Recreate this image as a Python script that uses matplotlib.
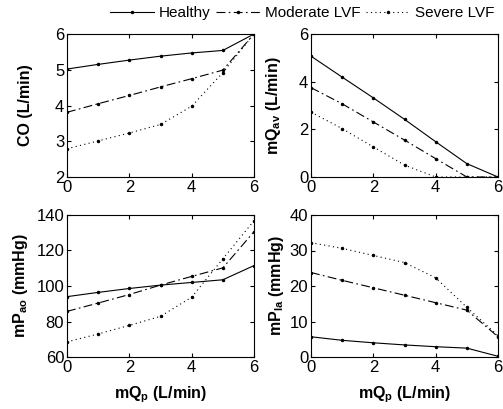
import numpy as np
import matplotlib
matplotlib.use('Agg')
import matplotlib.pyplot as plt

plt.rcParams['font.family'] = ['Liberation Sans', 'DejaVu Sans']

# flow through pump (L/min)
mQp = [0, 1, 2, 3, 4, 5, 6]

# cardiac output
co_healthy = [5.02, 5.15, 5.27, 5.38, 5.47, 5.54, 6.0]
co_moderate = [3.81, 4.05, 4.28, 4.52, 4.75, 4.99, 6.0]
co_severe = [2.79, 3.01, 3.23, 3.47, 3.98, 4.92, 6.0]

# aortic valve flow
qav_healthy = [5.07, 4.19, 3.32, 2.42, 1.48, 0.56, 0.0]
qav_moderate = [3.75, 3.07, 2.31, 1.55, 0.77, 0.0, 0.0]
qav_severe = [2.72, 2.03, 1.26, 0.50, 0.0, 0.0, 0.0]

# mean aortic pressure
pao_healthy = [94.0, 96.4, 98.6, 100.5, 102.0, 103.5, 111.5]
pao_moderate = [85.7, 90.4, 95.2, 100.5, 105.4, 110.2, 130.6]
pao_severe = [68.5, 73.0, 77.8, 82.9, 93.7, 115.3, 136.8]

# mean left atrial pressure
pla_healthy = [5.7, 4.7, 4.0, 3.4, 2.9, 2.5, 0.2]
pla_moderate = [23.8, 21.6, 19.5, 17.4, 15.3, 13.2, 5.7]
pla_severe = [32.2, 30.6, 28.6, 26.6, 22.3, 14.0, 6.0]

labels = ['Healthy', 'Moderate LVF', 'Severe LVF']
styles = ['-', (0, (8, 3, 1.5, 3)), (0, (1, 3))]

panels = [
    ([co_healthy, co_moderate, co_severe], 'CO (L/min)', (2, 6), [2, 3, 4, 5, 6]),
    ([qav_healthy, qav_moderate, qav_severe], r'mQ$_\mathregular{av}$ (L/min)', (0, 6), [0, 2, 4, 6]),
    ([pao_healthy, pao_moderate, pao_severe], r'mP$_\mathregular{ao}$ (mmHg)', (60, 140), [60, 80, 100, 120, 140]),
    ([pla_healthy, pla_moderate, pla_severe], r'mP$_\mathregular{la}$ (mmHg)', (0, 40), [0, 10, 20, 30, 40]),
]

fig = plt.figure(figsize=(5.03, 4.09), dpi=100)
W, H = 503.0, 409.0
boxes = [(67, 34, 254, 177), (311, 34, 498, 177), (67, 215, 254, 357), (311, 215, 498, 357)]
label_x = [-0.18, -0.15, -0.20, -0.135]

handles = []
for i, (series, ylab, ylim, yt) in enumerate(panels):
    x0, y0, x1, y1 = boxes[i]
    ax = fig.add_axes([x0 / W, 1 - y1 / H, (x1 - x0) / W, (y1 - y0) / H])
    for s, ls, lab in zip(series, styles, labels):
        h, = ax.plot(mQp, s, linestyle=ls, color='black', lw=0.8, marker='.', ms=3, label=lab)
        if i == 0:
            handles.append(h)
    ax.set_xlim(0, 6)
    ax.set_ylim(*ylim)
    ax.set_xticks([0, 2, 4, 6])
    ax.set_yticks(yt)
    ax.tick_params(direction='in', top=True, right=True, labelsize=12, length=3, pad=2)
    ax.set_ylabel(ylab, fontsize=11.5, fontweight='bold')
    ax.yaxis.set_label_coords(label_x[i], 0.5)
    if i >= 2:
        ax.set_xlabel(r'mQ$_\mathregular{p}$ (L/min)', fontsize=11.5, fontweight='bold', labelpad=7)

fig.legend(handles, labels, loc='center', bbox_to_anchor=(302 / W, 1 - 13 / H), ncol=3,
           frameon=False, fontsize=11, handlelength=2.9, columnspacing=0.35, handletextpad=0.3,
           borderaxespad=0, borderpad=0)

fig.savefig('out.png', dpi=100)
